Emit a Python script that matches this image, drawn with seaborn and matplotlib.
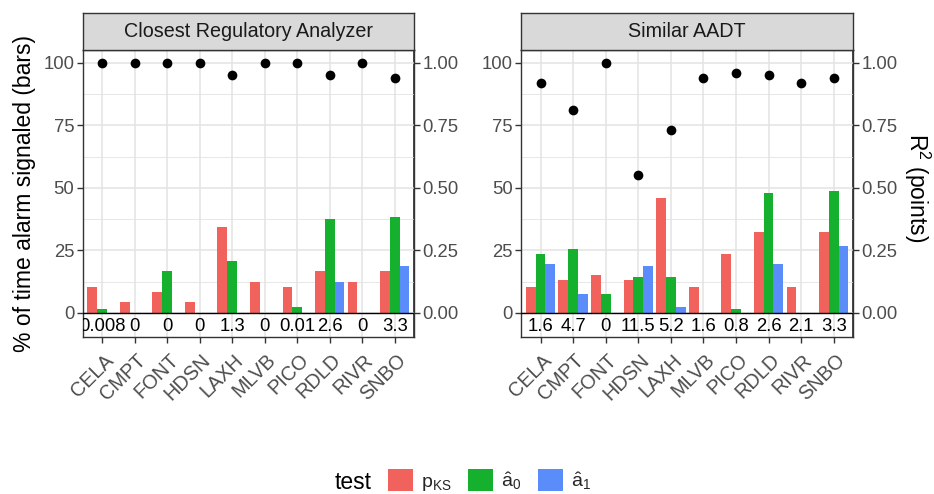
import numpy as np
import pandas as pd
import matplotlib
matplotlib.use("Agg")
import matplotlib.pyplot as plt
import matplotlib.transforms as mtransforms
import seaborn as sns
from matplotlib.patches import Patch
from matplotlib.ticker import FixedLocator

# ---------------- data ----------------
sites = ["CELA", "CMPT", "FONT", "HDSN", "LAXH", "MLVB", "PICO", "RDLD", "RIVR", "SNBO"]
tests = ["pKS", "a0", "a1"]
test_labels = [r"$\mathrm{p}_{\mathrm{KS}}$", r"$\hat{\mathrm{a}}_0$", r"$\hat{\mathrm{a}}_1$"]
colors = ["#F2625C", "#15B02E", "#5A8CFA"]

cra_pks = [10.4, 4.5, 8.5, 4.5, 34.5, 12.4, 10.4, 16.9, 12.4, 16.9]
cra_a0 = [1.6, 0, 16.9, 0, 20.8, 0, 2.5, 37.5, 0, 38.4]
cra_a1 = [0, 0, 0, 0, 0, 0, 0, 12.4, 0, 18.8]
cra_r2 = [1.00, 1.00, 1.00, 1.00, 0.95, 1.00, 1.00, 0.95, 1.00, 0.94]
cra_labels = ["0.008", "0", "0", "0", "1.3", "0", "0.01", "2.6", "0", "3.3"]

aadt_pks = [10.4, 13.3, 15.3, 13.3, 45.9, 10.4, 23.7, 32.5, 10.4, 32.5]
aadt_a0 = [23.7, 25.7, 7.5, 14.4, 14.4, 0, 1.6, 47.9, 0, 48.8]
aadt_a1 = [19.7, 7.5, 0, 18.8, 2.5, 0, 0, 19.7, 0, 26.7]
aadt_r2 = [0.92, 0.81, 1.00, 0.55, 0.73, 0.94, 0.96, 0.95, 0.92, 0.94]
aadt_labels = ["1.6", "4.7", "0", "11.5", "5.2", "1.6", "0.8", "2.6", "2.1", "3.3"]

panel_titles = ["Closest Regulatory Analyzer", "Similar AADT"]
y_ticks = [0, 25, 50, 75, 100]
r2_ticks = [0.00, 0.25, 0.50, 0.75, 1.00]

# ---------------- style ----------------
sns.set_theme(style="white")
plt.rcParams["font.family"] = ["Liberation Sans", "DejaVu Sans"]
plt.rcParams["mathtext.fontset"] = "custom"
plt.rcParams["mathtext.rm"] = "Liberation Sans"
plt.rcParams["mathtext.it"] = "Liberation Sans:italic"
plt.rcParams["mathtext.bf"] = "Liberation Sans:bold"

W, H = 934, 494
fig = plt.figure(figsize=(W / 100, H / 100), dpi=100)

def frac_rect(x0, y0, x1, y1):
    return [x0 / W, 1 - y1 / H, (x1 - x0) / W, (y1 - y0) / H]

TICK_COL = "#4D4D4D"
LINE_COL = "#333333"
GRID_COL = "#E3E3E3"
FS = 13.3

def draw(px0, px1, pks, a0, a1, r2, labels, title):
    ax = fig.add_axes(frac_rect(px0, 50, px1, 336.5))
    df = pd.DataFrame({
        "site": sites * 3,
        "test": np.repeat(tests, len(sites)),
        "value": pks + a0 + a1,
    })
    sns.barplot(data=df, x="site", y="value", hue="test", order=sites,
                hue_order=tests, palette=colors, width=0.9, linewidth=0,
                saturation=1, ax=ax, legend=False, zorder=3)
    sns.stripplot(x=sites, y=np.array(r2) * 100, order=sites, jitter=False,
                  color="black", size=7, ax=ax, zorder=5, linewidth=0)
    ax.axhline(0, color="black", lw=1.0, zorder=4)
    for i, lab in enumerate(labels):
        ax.text(i, -5.6, lab, ha="center", va="center", fontsize=FS,
                color="black", clip_on=True, zorder=6)
    ax.set_xlim(-0.6, len(sites) - 0.4)
    ax.set_ylim(-9.5, 105.1)
    ax.set_yticks(y_ticks)
    ax.set_yticklabels([str(t) for t in y_ticks])
    ax.yaxis.set_minor_locator(FixedLocator([12.5, 37.5, 62.5, 87.5]))
    ax.set_xticks(range(len(sites)))
    ax.set_xticklabels([])
    # rotated category labels (ggplot-like angle=45, hjust=1)
    base = mtransforms.blended_transform_factory(ax.transData, ax.transAxes)
    off = mtransforms.ScaledTranslation(1.5 / 100, -14 / 100, fig.dpi_scale_trans)
    for i, s in enumerate(sites):
        ax.text(i, 0, s, transform=base + off, rotation=45, ha="right", va="top",
                rotation_mode="anchor", fontsize=14.3, color=TICK_COL, clip_on=False)
    ax.xaxis.grid(True, which="major", color=GRID_COL, lw=1.1, zorder=0)
    ax.yaxis.grid(True, which="major", color=GRID_COL, lw=1.1, zorder=0)
    ax.yaxis.grid(True, which="minor", color=GRID_COL, lw=0.6, zorder=0)
    ax.set_axisbelow(True)
    ax.set_xlabel("")
    ax.set_ylabel("")
    ax.tick_params(axis="both", which="major", length=4, width=1, color=LINE_COL,
                   labelcolor=TICK_COL, pad=2, left=True, bottom=True)
    ax.tick_params(axis="y", which="major", labelsize=FS)
    ax.tick_params(axis="y", which="minor", length=0)
    for s in ax.spines.values():
        s.set_color(LINE_COL)
        s.set_linewidth(1.0)
    sec = ax.secondary_yaxis("right", functions=(lambda y: y / 100, lambda y: y * 100))
    sec.set_yticks(r2_ticks)
    sec.set_yticklabels([f"{t:.2f}" for t in r2_ticks])
    sec.tick_params(axis="y", length=4, width=1, color=LINE_COL,
                    labelcolor=TICK_COL, labelsize=FS, pad=2)
    sec.spines["right"].set_color(LINE_COL)

    sax = fig.add_axes(frac_rect(px0, 13, px1, 50))
    sax.set_facecolor("#D9D9D9")
    sax.set_xticks([])
    sax.set_yticks([])
    for s in sax.spines.values():
        s.set_color(LINE_COL)
        s.set_linewidth(1.0)
    sax.text(0.5, 0.5, title, ha="center", va="center", fontsize=14.2,
             color="#1A1A1A", transform=sax.transAxes)
    return ax

draw(82.5, 414.3, cra_pks, cra_a0, cra_a1, cra_r2, cra_labels, panel_titles[0])
draw(521, 853.3, aadt_pks, aadt_a0, aadt_a1, aadt_r2, aadt_labels, panel_titles[1])

fig.text(25 / W, 1 - 193 / H, "% of time alarm signaled (bars)", rotation=90,
         ha="center", va="center", fontsize=16.5, color="black")
fig.text(917 / W, 1 - 188 / H, r"R$^2$ (points)", rotation=-90,
         ha="center", va="center", fontsize=16.5, color="black")

fig.text(335 / W, 1 - 482 / H, "test", ha="left", va="center", fontsize=16.5,
         color="black")
handles = [Patch(facecolor=c, edgecolor="none", label=l) for c, l in zip(colors, test_labels)]
fig.legend(handles=handles, loc="center left", bbox_to_anchor=(388 / W, 1 - 481 / H),
           ncol=3, frameon=False, fontsize=14, handlelength=1.3, handleheight=1.3,
           handletextpad=0.4, columnspacing=0.85, borderaxespad=0, borderpad=0)

fig.savefig("out.png", dpi=100)
